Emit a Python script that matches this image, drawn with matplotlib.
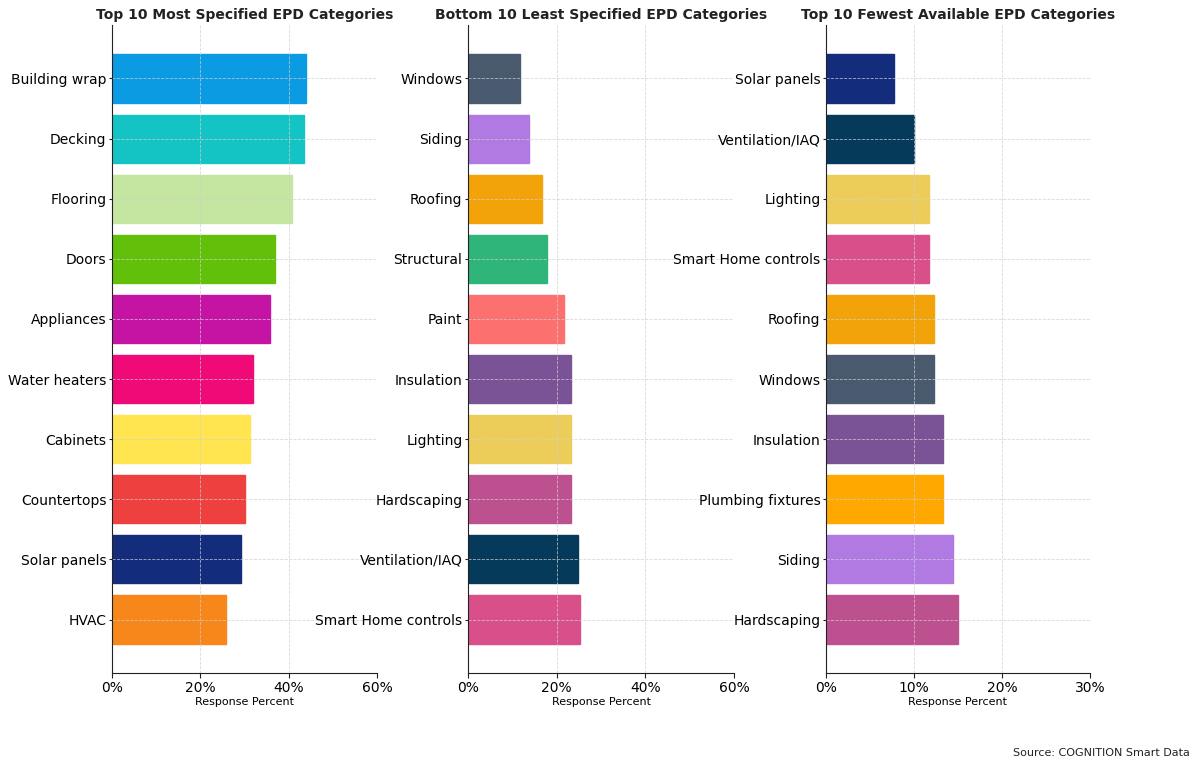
import matplotlib
matplotlib.use("Agg")
import matplotlib.pyplot as plt
from matplotlib.ticker import FuncFormatter

top_cats = ["Building wrap", "Decking", "Flooring", "Doors", "Appliances",
            "Water heaters", "Cabinets", "Countertops", "Solar panels", "HVAC"]
top_vals = [43.9, 43.4, 40.8, 36.9, 35.8, 31.9, 31.2, 30.1, 29.2, 25.8]
top_colors = ["#0a9be3", "#14c4c4", "#c4e6a0", "#62bf0a", "#c514a4",
              "#f00a78", "#ffe650", "#ef4040", "#142c7c", "#f7871a"]

bot_cats = ["Windows", "Siding", "Roofing", "Structural", "Paint",
            "Insulation", "Lighting", "Hardscaping", "Ventilation/IAQ", "Smart Home controls"]
bot_vals = [11.7, 13.8, 16.6, 17.8, 21.6, 23.2, 23.2, 23.2, 24.8, 25.3]
bot_colors = ["#4a5a6e", "#b07ae2", "#f2a30a", "#2fb47a", "#fc7070",
              "#7a5296", "#eccd5a", "#bd5190", "#053a5a", "#d94f8a"]

few_cats = ["Solar panels", "Ventilation/IAQ", "Lighting", "Smart Home controls", "Roofing",
            "Windows", "Insulation", "Plumbing fixtures", "Siding", "Hardscaping"]
few_vals = [7.7, 10.0, 11.7, 11.7, 12.3, 12.3, 13.3, 13.3, 14.4, 15.0]
few_colors = ["#142c7c", "#053a5a", "#eccd5a", "#d94f8a", "#f2a30a",
              "#4a5a6e", "#7a5296", "#ffa800", "#b07ae2", "#bd5190"]

titles = ["Top 10 Most Specified EPD Categories",
          "Bottom 10 Least Specified EPD Categories",
          "Top 10 Fewest Available EPD Categories"]
xmaxes = [60, 60, 30]
xticks = [[0, 20, 40, 60], [0, 20, 40, 60], [0, 10, 20, 30]]

fig = plt.figure(figsize=(12, 7.69), dpi=100)
W, H = 1200, 769
lefts = [112, 468, 826]
rights = [377, 734, 1090]
top_px, bot_px = 25, 673

data = [(top_cats, top_vals, top_colors), (bot_cats, bot_vals, bot_colors),
        (few_cats, few_vals, few_colors)]

for i, (cats, vals, cols) in enumerate(data):
    ax = fig.add_axes([lefts[i] / W, 1 - bot_px / H,
                       (rights[i] - lefts[i]) / W, (bot_px - top_px) / H])
    ax.barh(cats, vals, color=cols, height=0.8, alpha=1.0,
            edgecolor=cols, linewidth=1)
    ax.invert_yaxis()
    ax.set_xlim(0, xmaxes[i])
    ax.set_xticks(xticks[i])
    ax.xaxis.set_major_formatter(FuncFormatter(lambda v, p: f"{int(v)}%"))
    ax.grid(True, linestyle="--", color="#d0d0d0", linewidth=0.6, alpha=0.8)
    ax.set_axisbelow(False)
    for s in ["top", "right"]:
        ax.spines[s].set_visible(False)
    for s in ["left", "bottom"]:
        ax.spines[s].set_color("#222222")
        ax.spines[s].set_zorder(5)
    ax.tick_params(axis="both", labelsize=10, colors="#222222", labelcolor="black",
                   length=3.5)
    ax.tick_params(axis="y", pad=1.5, length=2.5)
    ax.tick_params(axis="x", pad=2)
    ax.set_xlabel("Response Percent", fontsize=8, labelpad=2)
    ax.set_title(titles[i], fontsize=10, fontweight="bold", pad=4, color="#222222")

fig.text(1190 / W, 1 - 753 / H, "Source: COGNITION Smart Data", ha="right",
         va="center", fontsize=8, color="#222222")

fig.savefig("out.png", dpi=100)
